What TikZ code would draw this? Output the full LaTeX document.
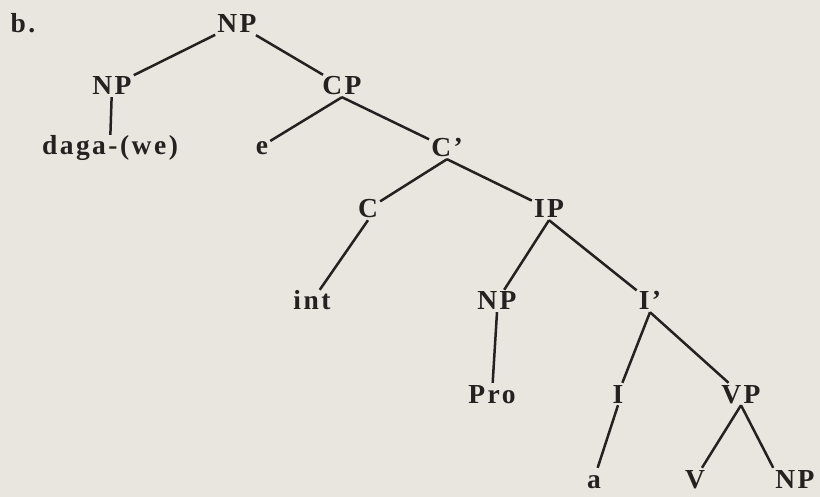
\documentclass[tikz,border=0pt]{standalone}
\usepackage{fontspec}
\setmainfont{Liberation Serif}[LetterSpace=9]
\definecolor{paper}{RGB}{233,230,223}
\definecolor{ink}{RGB}{38,33,33}

\begin{document}
\begin{tikzpicture}[x=1pt,y=-1pt,
        lbl/.style={inner sep=2pt,text height=18pt,text depth=0pt,text=ink,
            font=\fontsize{27.5}{30}\selectfont\bfseries},
        branch/.style={draw=ink,line width=2.5pt}]
        %% Paper
        \fill[paper] (0,0) rectangle (820,497);
        \useasboundingbox (0,0) rectangle (820,497);
        %% Labels
        \node[lbl] (b) at (23,24) {b.};
        \node[lbl] (nptop) at (237,24) {NP};
        \node[lbl] (npl) at (112,86) {NP};
        \node[lbl] (cp) at (342,86) {CP};
        \node[lbl] (daga) at (110,146) {daga-(we)};
        \node[lbl] (e) at (262,146) {e};
        \node[lbl] (cbar) at (447,148) {C'};
        \node[lbl] (c) at (368,209) {C};
        \node[lbl] (ip) at (549,209) {IP};
        \node[lbl] (int) at (312,301) {int};
        \node[lbl] (npm) at (497,301) {NP};
        \node[lbl] (ibar) at (650,301) {I'};
        \node[lbl] (pro) at (492,394) {Pro};
        \node[lbl] (i) at (618,394) {I};
        \node[lbl] (vp) at (741,394) {VP};
        \node[lbl] (a) at (594,479) {a};
        \node[lbl] (v) at (695,479) {V};
        \node[lbl] (npr) at (795,479) {NP};
        %% Branches
        \draw[branch] (nptop) -- (npl);
        \draw[branch] (nptop) -- (cp);
        \draw[branch] (npl) -- (daga);
        \draw[branch] (cp.south) -- (e);
        \draw[branch] (cp.south) -- (cbar);
        \draw[branch] (cbar.south) -- (c);
        \draw[branch] (cbar.south) -- (ip);
        \draw[branch] (c.south) -- (int);
        \draw[branch] (ip.south) -- (npm);
        \draw[branch] (ip.south) -- (ibar);
        \draw[branch] (npm.south) -- (pro);
        \draw[branch] (ibar.south) -- (i);
        \draw[branch] (ibar.south) -- (vp);
        \draw[branch] (i.south) -- (a);
        \draw[branch] (vp.south) -- (v);
        \draw[branch] (vp.south) -- (npr.north west);
    \end{tikzpicture}
\end{document}
